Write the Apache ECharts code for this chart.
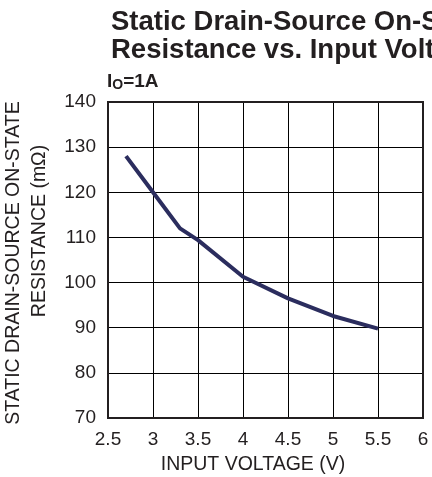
<!DOCTYPE html>
<html>
<head>
<meta charset="utf-8">
<script src="https://cdn.jsdelivr.net/npm/echarts@6/dist/echarts.min.js"></script>
<style>
html,body{margin:0;padding:0;background:#fff;}
#chart{width:432px;height:477px;}
</style>
</head>
<body>
<div id="chart"></div>
<script>
const titleLines = ["Static Drain-Source On-State", "Resistance vs. Input Voltage"];
const conditionMain = "I";
const conditionSub = "O";
const conditionRest = "=1A";
const xAxisName = "INPUT VOLTAGE (V)";
const yAxisNameLines = ["STATIC DRAIN-SOURCE ON-STATE", "RESISTANCE (m\u03A9)"];
const inputVoltage = [2.7, 3.0, 3.3, 3.5, 4.0, 4.5, 5.0, 5.5];
const resistance = [128, 120, 112, 109.4, 101.3, 96.5, 92.6, 89.8];

const FONT = "'Liberation Sans', Arial, sans-serif";
const TXT = "#231f20";

const chart = echarts.init(document.getElementById('chart'), null, {renderer: 'canvas'});
chart.setOption({
  animation: false,
  backgroundColor: '#fff',
  title: {
    text: titleLines.join('\n'),
    left: 106,
    top: 3,
    textStyle: {fontFamily: FONT, fontSize: 27.5, fontWeight: 'bold', color: TXT, lineHeight: 28}
  },
  grid: {left: 108, top: 102, right: 9, bottom: 59, containLabel: false},
  xAxis: {
    type: 'value', min: 2.5, max: 6, interval: 0.5,
    axisLine: {show: true, lineStyle: {color: '#231f20', width: 2}},
    axisTick: {show: false},
    axisLabel: {fontFamily: FONT, fontSize: 19, color: TXT, margin: 12},
    splitLine: {show: true, lineStyle: {color: '#000', width: 1}}
  },
  yAxis: {
    type: 'value', min: 70, max: 140, interval: 10,
    axisLine: {show: true, lineStyle: {color: '#231f20', width: 2}},
    axisTick: {show: false},
    axisLabel: {fontFamily: FONT, fontSize: 19, color: TXT, margin: 12},
    splitLine: {show: true, lineStyle: {color: '#000', width: 1}}
  },
  graphic: [
    {type: 'rect', shape: {x: 108, y: 102, width: 315, height: 316}, style: {fill: 'none', stroke: '#231f20', lineWidth: 2}, z: 10},
    {type: 'text', left: 107, top: 72, style: {
      text: '{m|' + conditionMain + '}{s|' + conditionSub + '}{m|' + conditionRest + '}',
      rich: {
        m: {fontFamily: FONT, fontSize: 19, fontWeight: 'bold', fill: TXT},
        s: {fontFamily: FONT, fontSize: 14, fontWeight: 'bold', fill: TXT, padding: [8, 0, 0, 0]}
      }
    }},
    {type: 'text', x: 253, y: 465, style: {
      text: xAxisName, fontFamily: FONT, fontSize: 19.5, fill: TXT, align: 'center', verticalAlign: 'middle'
    }},
    {type: 'text', x: 14, y: 263, rotation: Math.PI / 2, style: {
      text: yAxisNameLines[0], fontFamily: FONT, fontSize: 19.5, fill: TXT, align: 'center', verticalAlign: 'middle'
    }},
    {type: 'text', x: 40, y: 231, rotation: Math.PI / 2, style: {
      text: yAxisNameLines[1], fontFamily: FONT, fontSize: 19.5, fill: TXT, align: 'center', verticalAlign: 'middle'
    }}
  ],
  series: [{
    type: 'line',
    data: inputVoltage.map((v, i) => [v, resistance[i]]),
    showSymbol: false,
    smooth: false,
    lineStyle: {color: '#2b2d5e', width: 4},
    z: 5
  }]
});
</script>
</body>
</html>
